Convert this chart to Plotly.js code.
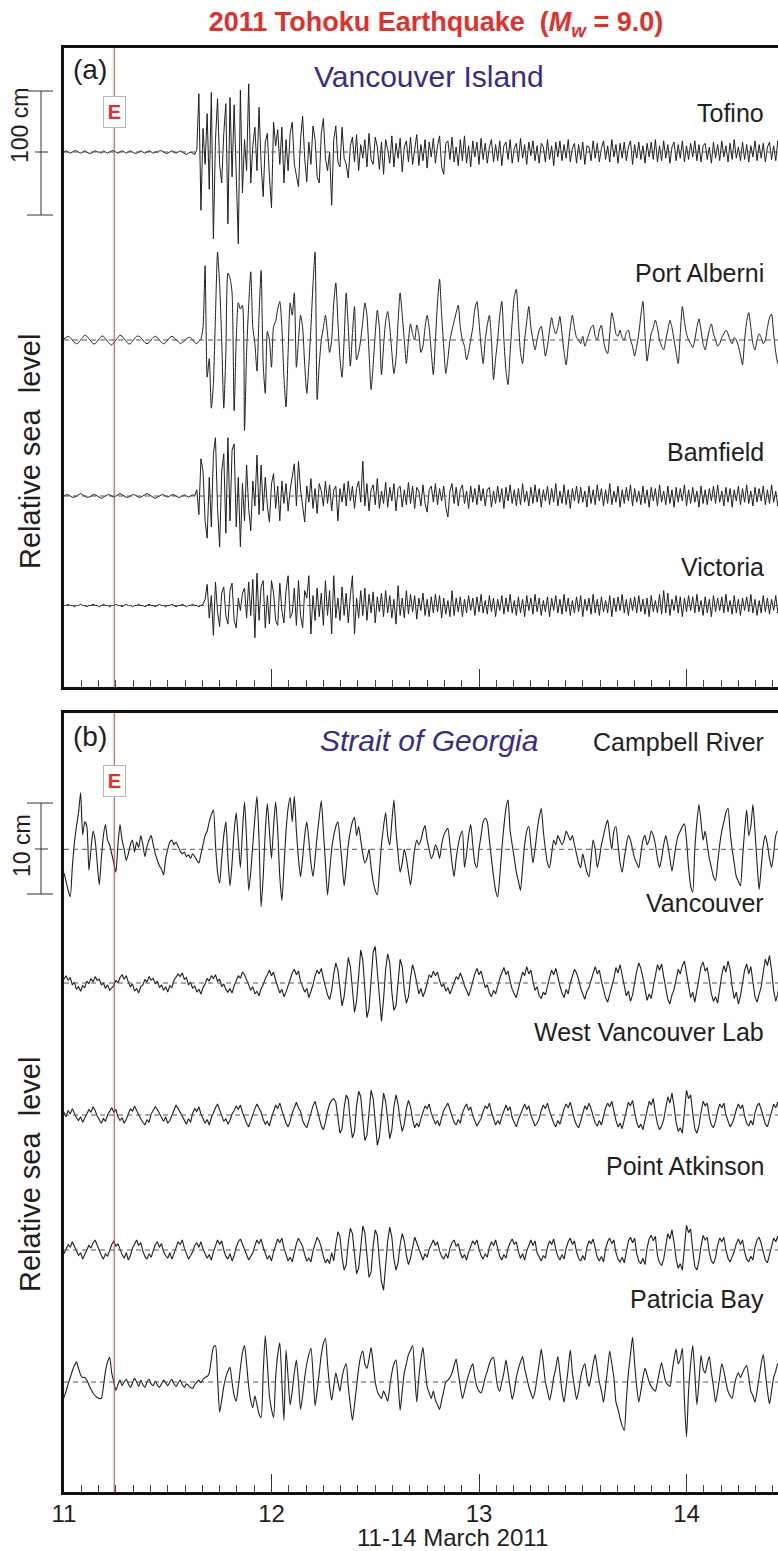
<!DOCTYPE html>
<html><head><meta charset="utf-8">
<script src="https://cdn.plot.ly/plotly-3.0.1.min.js"></script>
<style>html,body{margin:0;padding:0;background:#fff;overflow:hidden}</style>
</head><body><div id="chart" style="width:800px;height:1551px"></div>
<script>
// ---- data ----
const T0 = 11, DT = 0.01;            // sample start (day of March 2011) and step (days)
const quakeTime = 11.242;            // earthquake origin time
const xTickVals = [11, 12, 13, 14];
const xTickText = ["11", "12", "13", "14"];
const xTitle = "11-14 March 2011";
const stationsA = ["Tofino", "Port Alberni", "Bamfield", "Victoria"];
const stationsB = ["Campbell River", "Vancouver", "West Vancouver Lab", "Point Atkinson", "Patricia Bay"];

// Panel (a) series, cm
const tofino = [0,1,0,-1,0,1,1,0,-1,0,1,0,-1,-1,0,1,0,0,-1,1,0,-1,0,1,1,0,-1,0,1,0,-1,0,1,0,-1,-1,0,1,0,-1,0,1,0,-1,0,0,1,1,0,-1,-1,0,1,0,-1,0,1,0,-1,-2,-1,0,-1,-2,
2,47,-47,19,-10,31,-30,48,-70,10,43,-10,-25,15,39,-58,44,-20,38,-30,-74,50,-33,10,-15,55,-25,5,20,-15,36,-10,-36,8,15,-20,-45,24,5,18,-10,20,-25,10,-15,15,24,-10,-20,-28,10,29,-5,-24,8,-10,21,10,-20,-25,15,27,-5,-15,0,-43,10,21,-8,-12,20,-5,-10,-21,5,
12,-8,14,-15,6,-5,10,-12,15,-6,-10,12,4,-14,8,-18,10,2,-9,13,-12,7,-5,11,-16,4,9,-8,12,-10,3,14,-11,6,-7,10,-13,8,-4,11,-9,5,13,-12,-18,7,9,-6,12,-8,4,-11,10,-7,13,-9,5,-12,9,-4,8,-10,11,-6,7,-9,4,10,-8,6,
-7,9,-11,5,8,-6,10,-9,3,7,-8,11,-5,6,-10,8,-3,9,-7,5,-9,7,4,-8,10,-6,5,-11,8,-4,9,-7,6,-5,10,-8,3,7,-9,6,-6,8,-10,5,4,-7,9,-5,7,-8,3,9,-6,5,-8,10,-4,6,-9,7,-5,8,-7,4,9,-10,6,-5,8,-6,5,-9,7,-4,8,-6,10,-8,5,-7,9,-5,6,-9,4,8,-7,6,-5,9,-8,5,-6,7,-4,9,-7,6,-8,5,7,-6,4,-9,8,-5,6,-7,9,-4,5,-8,7,-6,10,-5,4,-7,8,-6,6,-8,5,-4,9,-7,6,-5,7,-8,
4,8,-6,5,-7,9,-5,6];
const portAlberni = [1,2,3,2,0,-2,-3,-2,0,2,4,3,1,-1,-3,-3,-1,1,3,3,1,-1,-3,-4,-2,0,2,4,3,1,-1,-3,-3,-1,1,3,3,2,0,-2,-3,-2,0,2,3,2,0,-2,-3,-2,0,2,3,2,0,-1,-3,-2,-1,1,2,2,0,-2,-3,-1,1,
10,60,-30,-15,-55,-35,20,71,45,0,-55,-10,54,50,38,-57,0,30,25,28,-73,-10,28,55,10,-3,-25,20,56,-20,-43,7,0,-22,11,15,25,31,10,-30,-54,-10,30,20,38,-22,0,20,10,-20,-43,-20,10,45,71,-48,-20,0,10,20,5,-10,0,30,46,15,-15,-30,0,38,10,-21,5,27,-16,-10,0,15,30,20,-10,-40,-20,5,24,10,-28,-5,15,23,10,-10,-27,-15,15,38,20,0,-19,0,
13,5,0,12,5,-10,-5,10,20,10,-10,-28,0,30,49,20,-5,-27,-15,0,8,15,22,28,10,0,-5,-16,-10,0,10,25,31,15,-5,-19,0,12,20,0,-32,-15,0,20,31,0,-25,-36,-10,15,35,41,15,-10,-19,0,15,27,10,0,-8,0,8,11,0,-13,-5,8,18,10,5,10,19,5,-10,-20,-5,10,20,10,2,0,-3,3,-5,0,5,10,12,3,0,8,12,0,-8,-11,5,22,15,5,
3,8,2,0,6,8,0,-5,-13,-5,5,20,31,5,-17,-5,5,10,16,10,0,-5,-8,0,8,16,10,0,-10,-19,5,27,15,5,0,-3,-6,0,10,17,8,-3,-8,0,8,13,5,0,-5,-3,2,5,8,5,0,-3,2,0,-5,-12,-20,0,15,22,10,-3,-8,0,5,2,-3,0,10,18,21,5,-10,-19,-5,8];
const bamfield = [0,1,1,0,-1,-1,0,1,2,1,0,-1,-1,0,1,1,0,-1,-2,-1,0,1,1,0,-1,0,1,2,1,0,-1,-1,0,1,1,0,-1,-1,0,1,2,1,0,-1,-2,-1,0,1,1,0,-1,0,1,1,0,-1,-1,0,1,0,-1,0,1,0,
5,-15,30,20,-20,-34,15,-25,34,47,-10,-41,20,34,-30,47,-20,37,42,-25,15,-41,10,-20,25,-10,-28,12,-8,33,-15,25,-12,15,-8,-21,10,18,-10,8,-20,12,-6,10,-12,5,15,26,-8,28,5,-10,-21,8,-5,14,-10,6,-14,10,4,-8,12,-6,9,-12,5,8,-20,6,-5,10,-8,12,-4,
8,-10,6,12,-5,28,-8,10,-12,5,9,-7,14,-10,4,-6,11,-9,7,-4,10,-12,6,8,-9,5,-7,11,-6,8,-10,7,4,-8,9,-6,-13,5,8,-5,10,-7,6,-4,8,-9,-17,4,10,-6,7,-8,5,9,-6,4,-10,8,-5,6,-7,9,-4,6,-8,5,7,-9,4,-6,
8,-5,6,-10,7,-4,9,-6,5,-8,6,-7,10,-5,4,-8,7,-6,9,-5,6,-9,5,-4,8,-7,6,-5,10,-8,4,-6,9,-7,5,-10,6,-4,8,-6,7,-5,4,-9,8,-6,5,-7,9,-4,6,-8,5,-6,10,-7,4,-5,8,-9,5,-6,7,-4,9,-8,6,-5,4,-7,8,-6,5,-9,7,-4,6,-8,9,-5,4,-7,8,-6,5,-9,7,-5,6,-4,9,-8,5,-6,7,-5,4,-9,8,-6,5,-7,6,-4,8,-6,9,-5,4,-8,7,-5,6,-9,5,-4,8,-7,6,-5,9,-6,4,-8,7,-5,6,-4,8,-7,
5,-6,9,-5,4,-8,6,-4];
const victoria = [0,0,1,0,0,-1,0,0,1,0,0,-1,0,0,1,0,0,-1,0,1,0,0,-1,0,0,1,0,0,-1,0,1,0,0,-1,0,0,1,0,0,-1,0,1,0,0,-1,0,1,0,0,-1,0,0,1,0,-1,0,0,1,0,-1,0,0,1,0,0,-1,0,1,
5,17,-10,8,-24,19,-5,-17,10,15,-8,-15,12,18,-12,-18,6,-4,10,14,-10,19,-8,21,-26,26,-12,15,20,-18,8,-15,20,10,-12,-16,18,-4,-14,12,24,-10,-6,14,-16,20,-8,-18,12,6,24,-23,8,-12,14,-9,10,-16,20,-8,12,-23,24,-10,6,-12,15,-8,10,-14,8,
24,-23,6,-10,12,-8,14,-12,9,-6,11,-14,7,-5,10,-9,12,-6,8,-10,5,-15,16,-8,6,-10,12,-7,9,-5,8,-11,6,-4,10,-8,5,-9,7,-6,9,-5,8,-10,6,-7,4,-9,12,-8,6,-5,7,-9,5,-6,8,-4,6,-8,7,-5,9,-6,4,-7,8,-5,6,-9,
5,-4,8,-7,6,-5,9,-6,4,-8,7,-6,5,-9,8,-4,6,-7,9,-5,6,-8,4,-5,7,-9,6,-4,8,-6,5,-7,9,-5,6,-8,4,-6,7,-5,8,-9,5,-4,6,-7,9,-6,5,-8,7,-5,4,-6,8,-9,6,-5,7,-4,9,-6,5,-8,6,-4,7,-6,8,-5,5,-7,6,-9,8,-5,4,-6,9,-7,12,-6,10,-8,5,-4,8,-6,7,-9,6,-5,8,-4,7,-6,9,-5,4,-8,7,-6,5,-9,8,-5,6,-4,7,-6,9,-5,4,-7,8,-6,5,-8,6,-4,7,-5,9,-6,5,-8,4,-6,8,-5,
6,-7,5,-4,8,-6,7,-5];

// Panel (b) series, mm
const campbellRiver = [-26,-35,-45,-52,-20,7,25,40,62,16,30,25,-23,0,20,10,-15,-39,-10,15,27,10,5,-5,-15,-25,5,27,10,0,-12,-5,5,10,-3,8,2,15,5,-8,3,10,15,5,-5,-12,-18,-22,-28,-10,
0,8,10,5,8,3,-2,-5,-3,-8,-6,-10,-5,-8,-12,-15,-5,5,15,20,30,38,43,5,-25,-37,-10,15,30,-10,-40,-15,20,40,10,-20,20,52,10,-45,-25,5,35,58,10,-63,-30,20,50,20,
-10,25,52,20,-30,-56,-20,20,45,57,30,58,20,-10,-30,-10,15,30,10,-15,-30,-10,15,35,53,20,-15,-50,-25,0,15,25,30,10,-15,-40,-20,5,20,30,35,15,25,10,-5,-15,-10,0,-20,-35,
-45,-50,-25,5,25,40,15,5,30,54,20,-5,-25,-15,0,-10,-25,-39,-20,0,10,5,10,20,26,10,0,-10,-5,5,0,-10,5,15,20,23,5,-15,-30,-10,5,15,20,-20,-5,15,27,5,-15,-20,
0,15,30,34,30,10,-10,-30,-45,-52,-30,0,25,45,54,20,5,-10,-25,-35,-45,-20,5,20,25,5,-15,0,20,35,45,20,0,-15,-20,-5,10,5,15,10,5,10,20,15,10,15,5,-5,-15,-20,
-5,-15,-25,-30,-10,10,0,-20,-10,5,15,25,32,15,0,20,25,5,-15,-25,-10,5,15,10,0,-10,-15,-20,-5,10,15,5,10,20,15,5,-10,-20,-10,5,15,5,-10,-24,-10,5,15,20,25,28,
10,-20,-40,-47,0,30,49,30,10,20,5,-10,-20,-30,-34,-15,5,20,30,40,45,20,0,-15,-30,-35,-40,-10,20,43,15,25,49,20,-15,-44,-20,5,15,5,-10,-20,-5,15,20,5,-10];
const vancouver = [4,8,3,6,-2,1,-7,-4,-9,-3,-5,2,-1,5,1,7,3,4,-2,0,-6,-2,-8,-5,-3,3,0,6,9,4,8,1,-4,-1,-9,-6,-11,-4,-2,4,1,7,3,5,-1,2,-5,-2,-8,-4,
-10,-3,-5,3,6,10,7,11,4,6,-2,1,-6,-3,-10,-7,-12,-5,-1,5,2,8,5,9,2,4,-4,-1,-7,-10,-6,-11,-3,2,8,5,12,9,4,-2,-8,-4,-12,-9,-14,-6,-2,5,9,14,
8,12,3,-5,-11,-7,-15,-10,-3,6,11,15,9,13,2,-4,-10,-6,-16,-9,-2,8,14,10,16,5,-6,-13,-18,-8,
10,22,14,-8,-25,-15,8,28,18,-10,-32,-20,12,36,25,-6,-38,-28,5,34,40,12,-20,-42,-18,15,32,22,-10,-30,-25,5,26,18,-8,-22,-15,6,20,12,
-2,-12,-6,-15,-9,2,9,6,13,8,12,3,-4,-1,-9,-5,-12,-6,1,7,4,11,5,-3,-8,-14,-7,2,10,16,9,13,4,-5,-2,-11,-15,-8,-12,-3,5,11,17,9,13,2,-7,-12,-16,-6,
3,12,8,18,10,14,2,-8,-4,-14,-17,-10,-13,-2,6,14,9,16,5,-3,-11,-16,-7,-12,0,8,15,11,4,-6,-13,-18,-9,-5,3,12,18,10,14,2,
-9,-16,-21,-12,-6,5,17,11,20,8,-2,-14,-9,-20,-13,1,13,22,16,6,-7,-19,-12,-17,-4,9,20,14,21,7,-6,-18,-23,-13,-7,4,15,10,19,24,
12,-3,-16,-10,-21,-8,6,18,23,13,17,2,-12,-20,-15,-22,-6,9,19,12,24,15,-4,-17,-10,-23,-14,3,14,21,10,18,-2,-15,-21,-12,-4,12,26,19,30,14,-8,-20,-12,6,22];
const westVancouverLab = [3,-2,5,1,7,2,-3,-6,-2,-8,-4,1,6,3,9,5,-1,-5,-9,-4,-7,0,4,8,3,6,-2,-6,-3,-9,-5,2,7,4,10,5,0,-4,-8,-11,-5,-8,1,5,9,6,2,-3,-7,-2,
-9,-6,0,6,11,7,3,-1,-6,-10,-4,-8,2,7,4,9,1,-4,-9,-5,-11,-3,3,8,12,6,-2,-7,-4,-10,-6,1,5,10,6,11,3,-4,-9,-13,-6,0,7,12,8,3,-5,-10,-7,-12,
-3,4,11,7,13,5,-2,-9,-13,-7,2,9,14,8,4,-6,-11,-14,-5,3,10,15,6,-3,-12,-16,-8,4,12,16,
18,14,-6,-20,-15,8,22,17,-8,-25,-18,10,26,20,-5,-28,-22,6,27,18,-10,-33,-24,5,24,15,-8,-26,-16,9,22,12,-6,-18,-10,7,16,9,-5,-14,
-9,-13,-4,3,10,7,12,2,-5,-10,-6,-12,-3,5,9,13,6,-2,-8,-11,-5,-9,2,8,12,5,9,-1,-7,-12,-8,-4,4,10,7,13,3,-5,-11,-6,-10,-2,6,11,5,9,-3,-8,-13,-5,
1,8,12,6,10,0,-7,-12,-9,-4,5,11,7,13,4,-3,-9,-13,-6,-10,0,7,12,8,14,3,-5,-11,-14,-7,2,10,6,13,7,-2,-9,-12,-6,-11,-1,8,13,9,15,4,-6,-13,-9,-15,
-4,6,14,10,16,3,-8,-14,-10,-16,-5,7,15,11,18,2,-10,-16,-12,-5,
8,20,13,24,10,-8,-18,-14,-20,5,27,18,22,2,-15,-20,-12,3,15,10,13,-2,-11,-14,-7,4,12,8,13,0,-8,-13,-9,-3,6,12,7,11,-1,-9,-12,-6,-11,2,10,13,6,-3,-10,-13,-5,4,12,8,14,1,-8];
const pointAtkinson = [-4,2,6,3,9,4,-2,-6,-3,-10,-5,0,5,2,8,11,5,-1,-6,-10,-4,-7,1,6,10,4,7,0,-5,-9,-3,-11,-6,2,7,11,5,8,-1,-7,-10,-4,-8,0,6,9,3,7,-2,-6,
-9,-3,-10,-4,3,9,6,11,2,-5,-10,-6,-2,5,8,3,9,1,-4,-9,-5,-11,-2,4,11,6,10,0,-7,-10,-4,-12,-6,3,9,12,6,1,-6,-11,-7,-3,5,11,7,12,3,-4,-10,-6,
-12,-2,6,12,8,13,2,-6,-12,-8,-13,-3,7,13,9,4,-5,-12,-9,-13,-1,8,14,10,3,-7,-14,-10,-15,-3,
-12,6,20,15,-8,-22,-16,8,24,18,-6,-26,-20,7,26,19,-9,-30,-24,5,22,16,-12,-35,-44,-20,10,25,14,-10,-22,-14,6,18,10,-6,-16,-9,5,14,
8,2,-6,-11,-4,-8,1,7,11,5,9,-1,-7,-10,-4,-9,2,8,11,4,7,-3,-9,-5,-11,-2,5,10,6,11,1,-6,-10,-4,-8,3,9,5,11,0,-7,-11,-5,-9,2,8,12,6,9,-2,
-9,-4,-11,-1,6,11,5,10,-3,-8,-12,-6,-9,3,10,6,12,1,-7,-11,-5,-10,2,9,13,6,10,-2,-9,-12,-6,-11,3,10,7,12,0,-8,-12,-7,-13,1,9,13,7,11,-3,-10,-13,-8,
-14,0,10,14,8,13,-4,-12,-15,-9,-16,2,12,16,10,15,-6,-14,-17,-10,
4,18,12,22,8,-10,-20,-15,-22,6,27,19,23,0,-18,-22,-12,4,16,11,14,-3,-12,-15,-8,5,13,9,14,0,-9,-13,-8,-2,7,12,6,11,-2,-10,-13,-7,-11,3,11,14,7,-4,-11,-14,-6,5,13,9,15,2,-9];
const patriciaBay = [-17,-10,-2,5,12,18,22,15,8,5,5,2,-3,-8,-12,-15,-17,-18,-18,-5,12,22,27,10,0,-9,-3,2,-4,0,3,-2,-6,-1,4,0,-5,2,-3,-6,0,3,-2,-4,1,-3,-6,-2,2,-1,
-4,0,3,-2,-5,-1,2,-3,-6,-2,-4,-6,-7,-3,0,2,-1,3,5,6,10,25,38,40,5,-33,-20,-5,5,12,16,0,-15,-21,-5,15,32,40,20,-5,-20,-28,-15,-25,-35,-39,10,51,20,-15,
-30,-39,5,30,43,0,-42,35,5,-25,-10,10,24,0,-30,-15,5,20,30,37,10,-26,-10,10,30,42,48,20,-5,-20,-5,10,0,-10,5,15,20,-5,-25,-42,-25,-5,15,28,34,20,15,25,38,20,
0,-10,-15,-18,-10,-15,-21,-5,10,20,24,0,-31,-10,10,20,30,35,40,10,-22,5,25,38,15,-5,-12,-18,-10,-20,-25,-30,-20,-10,0,2,5,10,18,25,10,-5,-18,-10,0,8,15,20,5,-5,
-10,-12,-5,5,12,20,25,27,10,-5,-10,0,10,24,10,-5,-19,-10,5,15,22,28,15,5,-5,-12,-18,-10,5,20,36,20,0,-10,-20,-10,5,15,28,10,-10,-22,-5,15,35,10,-5,-19,-10,5,
15,20,5,-5,5,20,30,15,0,-10,-22,-5,15,34,20,5,-22,-30,-40,-48,-53,-20,10,30,49,20,-5,-22,-10,5,15,8,0,-5,-8,-10,0,12,21,10,0,-3,-5,10,25,36,20,25,37,-20,
-60,-10,20,40,10,-25,0,29,15,10,20,28,10,-5,-22,-10,5,20,12,0,-10,-15,-18,-5,5,10,5,10,15,18,5,-10,-15,-22,-10,5,20,30,10,-10,-24,-10,5,12,20,10,-5];

// ---- layout geometry (pixels of the 1551-px-tall picture) ----
const W = 800, H = 1551, ML = 64, PT = 48, PB = 1492;
const PW = W - ML, PH = PB - PT;
const px2x = px => (px - ML) / PW;
const py2y = py => (PB - py) / PH;
const A_BOT = 687, B_TOP = 713;
const SA = 1.24, SB = 0.913;               // px per cm (panel a), px per mm (panel b)
const domA = [py2y(A_BOT), 1], domB = [0, py2y(B_TOP)];
const rangeA = [0, (A_BOT - PT) / SA];
const rangeB = [0, (PB - B_TOP) / SB];
const baseA = [152, 340, 496, 605.5];       // baseline pixel rows
const baseB = [849.3, 983, 1115, 1250, 1382];
const offA = baseA.map(p => (A_BOT - p) / SA);
const offB = baseB.map(p => (PB - p) / SB);
const labelYA = [113, 273, 452, 567];
const labelYB = [742, 903, 1032, 1166, 1299];

const FONT = "Liberation Sans, Arial, Helvetica, sans-serif";
const INK = "#1f1f1f";
const seriesA = [tofino, portAlberni, bamfield, victoria];
const seriesB = [campbellRiver, vancouver, westVancouverLab, pointAtkinson, patriciaBay];
const smoothA = [false, true, false, false];
const smoothB = [true, false, false, false, true];

const traces = [];
seriesA.forEach((s, k) => traces.push({
  type: "scatter", mode: "lines", x0: T0, dx: DT, y: s.map(v => v + offA[k]),
  xaxis: "x", yaxis: "y", name: stationsA[k], showlegend: false, hoverinfo: "skip",
  line: {color: INK, width: 1, shape: smoothA[k] ? "spline" : "linear", smoothing: 0.6}
}));
seriesB.forEach((s, k) => traces.push({
  type: "scatter", mode: "lines", x0: T0, dx: DT, y: s.map(v => v + offB[k]),
  xaxis: "x2", yaxis: "y2", name: stationsB[k], showlegend: false, hoverinfo: "skip",
  line: {color: INK, width: 1.1, shape: smoothB[k] ? "spline" : "linear", smoothing: 0.6}
}));

const shapes = [];
offA.forEach(o => shapes.push({type: "line", xref: "paper", yref: "y", x0: 0, x1: 1, y0: o, y1: o,
  line: {color: "#555", width: 1, dash: "5px,4px"}}));
offB.forEach(o => shapes.push({type: "line", xref: "paper", yref: "y2", x0: 0, x1: 1, y0: o, y1: o,
  line: {color: "#555", width: 1, dash: "5px,4px"}}));
// earthquake lines
shapes.push({type: "line", xref: "x", yref: "y domain", x0: quakeTime, x1: quakeTime, y0: 0, y1: 1, line: {color: "#d0402a", width: 1}});
shapes.push({type: "line", xref: "x2", yref: "y2 domain", x0: quakeTime, x1: quakeTime, y0: 0, y1: 1, line: {color: "#d0402a", width: 1}});
// scale bars
function scaleBar(top, mid, bottom) {
  const c = {color: "#333", width: 1};
  shapes.push({type: "line", xref: "paper", yref: "paper", x0: px2x(41), x1: px2x(41), y0: py2y(top), y1: py2y(bottom), line: c});
  shapes.push({type: "line", xref: "paper", yref: "paper", x0: px2x(27), x1: px2x(53), y0: py2y(top), y1: py2y(top), line: c});
  shapes.push({type: "line", xref: "paper", yref: "paper", x0: px2x(27), x1: px2x(53), y0: py2y(bottom), y1: py2y(bottom), line: c});
  shapes.push({type: "line", xref: "paper", yref: "paper", x0: px2x(35), x1: px2x(48), y0: py2y(mid), y1: py2y(mid), line: c});
}
scaleBar(91, 152, 215);
scaleBar(803, 849, 894);

const ann = [];
function txt(text, px, py, opts) {
  ann.push(Object.assign({text: text, xref: "paper", yref: "paper", x: px2x(px), y: py2y(py),
    xanchor: "center", yanchor: "middle", showarrow: false,
    font: {family: FONT, size: 25, color: INK}}, opts || {}));
}
txt("(a)", 90, 70, {font: {family: FONT, size: 28, color: INK}});
txt("(b)", 90, 736, {font: {family: FONT, size: 28, color: INK}});
txt("Vancouver Island", 429, 77, {font: {family: FONT, size: 30, color: "#3b2b86"}});
txt("<i>Strait of Georgia</i>", 429, 740, {font: {family: FONT, size: 30, color: "#3b2b86"}});
stationsA.forEach((s, k) => txt(s, 766, labelYA[k], {xanchor: "right"}));
stationsB.forEach((s, k) => txt(s, 766, labelYB[k], {xanchor: "right"}));
txt("Relative sea\u00a0\u00a0level", 30, 452, {textangle: -90, font: {family: FONT, size: 29, color: INK}});
txt("Relative sea\u00a0\u00a0level", 30, 1175, {textangle: -90, font: {family: FONT, size: 29, color: INK}});
txt("100 cm", 20, 126, {textangle: -90, font: {family: FONT, size: 23, color: INK}});
txt("10 cm", 22, 846, {textangle: -90, font: {family: FONT, size: 23, color: INK}});
txt(xTitle, 452, 1537, {font: {family: FONT, size: 24, color: INK}});
[112, 781].forEach((py, k) => ann.push({text: "<b>E</b>", xref: k ? "x2" : "x", yref: "paper", x: quakeTime, y: py2y(py),
  xanchor: "center", yanchor: "middle", showarrow: false, bgcolor: "#fff", bordercolor: "#b8b8b8", borderwidth: 1,
  borderpad: 1, width: 19, height: 28, font: {family: FONT, size: 20, color: "#e0302a"}}));

const axX = {
  range: [T0, T0 + PW / 207.5], showgrid: false, zeroline: false,
  showline: true, linewidth: 3, linecolor: "#111", mirror: true,
  ticks: "inside", tickvals: xTickVals, ticklen: 18, tickwidth: 1, tickcolor: "#333",
  minor: {ticks: "inside", dtick: 1 / 12, tick0: 11, ticklen: 7, tickwidth: 1, tickcolor: "#444", showgrid: false},
  fixedrange: true
};
const axY = {showgrid: false, zeroline: false, showline: true, linewidth: 3, linecolor: "#111", mirror: true,
  ticks: "", showticklabels: false, fixedrange: true};

const layout = {
  width: W, height: H, paper_bgcolor: "#fff", plot_bgcolor: "#fff",
  margin: {l: ML, r: W - ML - PW, t: PT, b: H - PB, pad: 0},
  showlegend: false,
  font: {family: FONT, color: INK},
  title: {text: "<b>2011 Tohoku Earthquake\u00a0\u00a0(<i>M</i><sub><i>w</i></sub> = 9.0)</b>", xref: "paper", x: px2x(436), xanchor: "center",
    yref: "container", y: 1 - 22 / H, yanchor: "middle", font: {family: FONT, size: 27, color: "#e3302a"}},
  xaxis: Object.assign({}, axX, {anchor: "y", showticklabels: false}),
  xaxis2: Object.assign({}, axX, {anchor: "y2", matches: "x", showticklabels: true, ticktext: xTickText,
    tickfont: {family: FONT, size: 24, color: INK}, ticklabelstandoff: -2, automargin: false}),
  yaxis: Object.assign({}, axY, {domain: domA, range: rangeA}),
  yaxis2: Object.assign({}, axY, {domain: domB, range: rangeB}),
  shapes: shapes, annotations: ann
};
Plotly.newPlot("chart", traces, layout, {staticPlot: true, displayModeBar: false});
</script></body></html>
